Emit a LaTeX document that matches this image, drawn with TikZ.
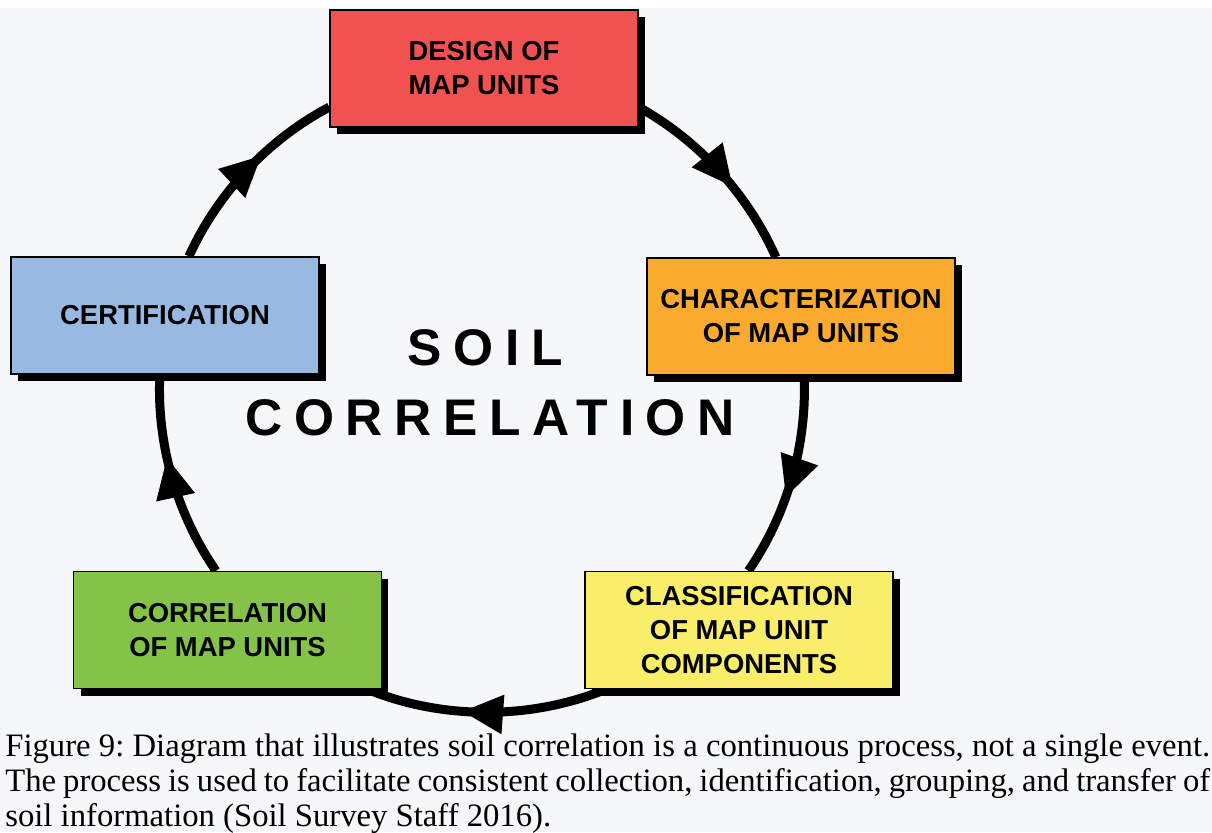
\documentclass[tikz,border=0pt]{standalone}
\usepackage{fontspec}
\setmainfont{Liberation Serif}
\setsansfont{Liberation Sans}
\newfontfamily\widefont{Liberation Sans}[LetterSpace=22.5]
\usepackage{xcolor}
\usepackage{tikz}
\usetikzlibrary{arrows.meta}
\usetikzlibrary{decorations.markings}
\usetikzlibrary{shadows}
\usetikzlibrary{backgrounds}

\pgfdeclarelayer{paper}
\pgfsetlayers{paper,background,main}

\definecolor{papergray}{HTML}{F6F7F9}
\definecolor{designred}{HTML}{F05252}
\definecolor{charorange}{HTML}{FBAA30}
\definecolor{classyellow}{HTML}{F9EE6A}
\definecolor{corrgreen}{HTML}{84C248}
\definecolor{certblue}{HTML}{98B9E2}

\begin{document}
\begin{tikzpicture}[x=0.02cm,y=-0.02cm,
   unit/.style={draw=black,line width=0.8pt,minimum width=6.16cm,minimum height=2.34cm,
      inner sep=0pt,align=center,font=\fontsize{15.6}{19.3}\selectfont\sffamily\bfseries,
      drop shadow={shadow xshift=0.14cm,shadow yshift=-0.14cm,fill=black,opacity=1}},
   ring/.style={line width=0.18cm,looseness=0.87,postaction={decorate},
      decoration={markings,mark=at position 0.6 with {\arrow{Triangle[length=0.82cm,width=0.74cm]}}}},
   bigword/.style={font=\widefont\bfseries\fontsize{29.3}{35}\selectfont,anchor=base,inner sep=0pt}]
\useasboundingbox (0,0) rectangle (1212,832);
\begin{pgfonlayer}{paper}
   \fill[papergray] (0,0) rectangle (1212,832);
   \fill[white] (0,0) rectangle (1212,8);
\end{pgfonlayer}
%% the five steps
\node[unit,fill=designred] (design) at (484,68.5) {DESIGN OF\\MAP UNITS};
\node[unit,fill=charorange] (charac) at (801,316.5) {CHARACTERIZATION\\OF MAP UNITS};
\node[unit,fill=classyellow] (classif) at (739,630) {CLASSIFICATION\\OF MAP UNIT\\COMPONENTS};
\node[unit,fill=corrgreen] (correl) at (227.5,630) {CORRELATION\\OF MAP UNITS};
\node[unit,fill=certblue] (certif) at (165,315.5) {CERTIFICATION};
%% title in the middle
\node[bigword] (soil) at (485,365) {SOIL};
\node[bigword] (corrword) at (490,435) {CORRELATION};
%% the cycle
\begin{scope}[on background layer]
\foreach \a/\b/\ea/\eb/\bend in {design/charac/-14.4/113.1/18.4, charac/classif/-87.1/81.2/18.5,
      classif/correl/-156.7/-23.6/22.3, correl/certif/101.2/-95/18.7, certif/design/68.2/-166.3/18.8}
   \draw[ring] (\a.\ea) to[bend left=\bend] (\b.\eb);
\end{scope}
%% caption
\node[anchor=north west,inner sep=0pt,text width=24.1cm,align=justify,
      font=\fontsize{18.6}{20.0}\selectfont\frenchspacing] (caption) at (5,733)
   {\noindent Figure 9: Diagram that illustrates soil correlation is a continuous process, not a single event.\linebreak
    The process is used to facilitate consistent collection, identification, grouping, and transfer of\linebreak
    soil information (Soil Survey Staff 2016).};
\end{tikzpicture}
\end{document}
